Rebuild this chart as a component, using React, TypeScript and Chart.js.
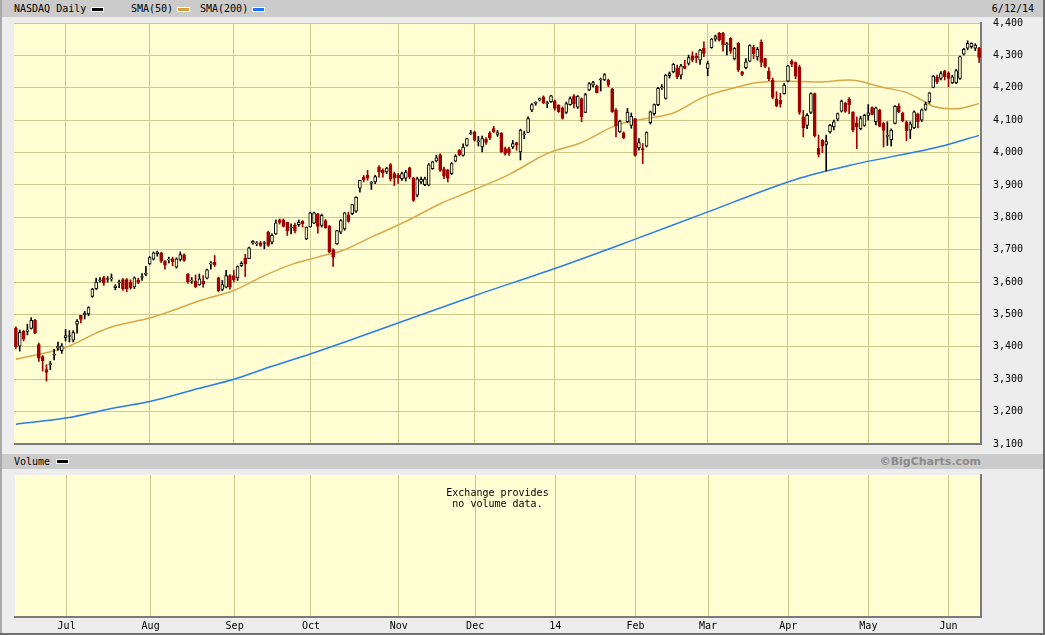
import React, { useEffect, useRef } from 'react';
import { Chart, registerables } from 'chart.js';

Chart.register(...registerables);

// ---- data ----
const dates = [
  '2013-06-12','2013-06-13','2013-06-14','2013-06-17','2013-06-18','2013-06-19','2013-06-20','2013-06-21','2013-06-24','2013-06-25',
  '2013-06-26','2013-06-27','2013-06-28','2013-07-01','2013-07-02','2013-07-03','2013-07-05','2013-07-08','2013-07-09','2013-07-10',
  '2013-07-11','2013-07-12','2013-07-15','2013-07-16','2013-07-17','2013-07-18','2013-07-19','2013-07-22','2013-07-23','2013-07-24',
  '2013-07-25','2013-07-26','2013-07-29','2013-07-30','2013-07-31','2013-08-01','2013-08-02','2013-08-05','2013-08-06','2013-08-07',
  '2013-08-08','2013-08-09','2013-08-12','2013-08-13','2013-08-14','2013-08-15','2013-08-16','2013-08-19','2013-08-20','2013-08-21',
  '2013-08-22','2013-08-23','2013-08-26','2013-08-27','2013-08-28','2013-08-29','2013-08-30','2013-09-03','2013-09-04','2013-09-05',
  '2013-09-06','2013-09-09','2013-09-10','2013-09-11','2013-09-12','2013-09-13','2013-09-16','2013-09-17','2013-09-18','2013-09-19',
  '2013-09-20','2013-09-23','2013-09-24','2013-09-25','2013-09-26','2013-09-27','2013-09-30','2013-10-01','2013-10-02','2013-10-03',
  '2013-10-04','2013-10-07','2013-10-08','2013-10-09','2013-10-10','2013-10-11','2013-10-14','2013-10-15','2013-10-16','2013-10-17',
  '2013-10-18','2013-10-21','2013-10-22','2013-10-23','2013-10-24','2013-10-25','2013-10-28','2013-10-29','2013-10-30','2013-10-31',
  '2013-11-01','2013-11-04','2013-11-05','2013-11-06','2013-11-07','2013-11-08','2013-11-11','2013-11-12','2013-11-13','2013-11-14',
  '2013-11-15','2013-11-18','2013-11-19','2013-11-20','2013-11-21','2013-11-22','2013-11-25','2013-11-26','2013-11-27','2013-11-29',
  '2013-12-02','2013-12-03','2013-12-04','2013-12-05','2013-12-06','2013-12-09','2013-12-10','2013-12-11','2013-12-12','2013-12-13',
  '2013-12-16','2013-12-17','2013-12-18','2013-12-19','2013-12-20','2013-12-23','2013-12-24','2013-12-26','2013-12-27','2013-12-30',
  '2013-12-31','2014-01-02','2014-01-03','2014-01-06','2014-01-07','2014-01-08','2014-01-09','2014-01-10','2014-01-13','2014-01-14',
  '2014-01-15','2014-01-16','2014-01-17','2014-01-21','2014-01-22','2014-01-23','2014-01-24','2014-01-27','2014-01-28','2014-01-29',
  '2014-01-30','2014-01-31','2014-02-03','2014-02-04','2014-02-05','2014-02-06','2014-02-07','2014-02-10','2014-02-11','2014-02-12',
  '2014-02-13','2014-02-14','2014-02-18','2014-02-19','2014-02-20','2014-02-21','2014-02-24','2014-02-25','2014-02-26','2014-02-27',
  '2014-02-28','2014-03-03','2014-03-04','2014-03-05','2014-03-06','2014-03-07','2014-03-10','2014-03-11','2014-03-12','2014-03-13',
  '2014-03-14','2014-03-17','2014-03-18','2014-03-19','2014-03-20','2014-03-21','2014-03-24','2014-03-25','2014-03-26','2014-03-27',
  '2014-03-28','2014-03-31','2014-04-01','2014-04-02','2014-04-03','2014-04-04','2014-04-07','2014-04-08','2014-04-09','2014-04-10',
  '2014-04-11','2014-04-14','2014-04-15','2014-04-16','2014-04-17','2014-04-21','2014-04-22','2014-04-23','2014-04-24','2014-04-25',
  '2014-04-28','2014-04-29','2014-04-30','2014-05-01','2014-05-02','2014-05-05','2014-05-06','2014-05-07','2014-05-08','2014-05-09',
  '2014-05-12','2014-05-13','2014-05-14','2014-05-15','2014-05-16','2014-05-19','2014-05-20','2014-05-21','2014-05-22','2014-05-23',
  '2014-05-27','2014-05-28','2014-05-29','2014-05-30','2014-06-02','2014-06-03','2014-06-04','2014-06-05','2014-06-06','2014-06-09',
  '2014-06-10','2014-06-11','2014-06-12',
];

const openP = [
  3458,3402,3449,3448,3457,3482,3407,3370,3330,3345,
  3374,3396,3388,3428,3432,3421,3470,3497,3499,3502,
  3556,3580,3604,3614,3608,3610,3583,3598,3608,3608,
  3600,3585,3606,3614,3624,3656,3671,3688,3689,3664,
  3668,3672,3646,3670,3684,3625,3603,3602,3591,3602,
  3612,3656,3661,3613,3577,3584,3620,3620,3613,3651,
  3673,3672,3721,3718,3721,3719,3754,3723,3749,3792,
  3792,3785,3767,3775,3777,3788,3733,3770,3782,3811,
  3775,3790,3772,3700,3718,3754,3764,3808,3811,3819,
  3890,3924,3930,3905,3909,3955,3945,3940,3963,3935,
  3930,3919,3921,3953,3921,3868,3909,3901,3899,3950,
  3974,3993,3950,3945,3935,3973,4007,3991,4022,4058,
  4064,4033,4017,4041,4061,4074,4056,4059,4012,4012,
  4017,4031,4002,4055,4062,4131,4152,4163,4172,4151,
  4157,4159,4146,4138,4124,4148,4175,4140,4167,4124,
  4193,4208,4205,4224,4224,4224,4195,4131,4064,4061,
  4095,4084,4105,4014,4012,4020,4092,4120,4148,4200,
  4167,4237,4249,4260,4239,4267,4275,4299,4297,4285,
  4322,4260,4324,4350,4368,4368,4333,4353,4289,4337,
  4249,4262,4282,4325,4295,4340,4290,4251,4224,4165,
  4162,4182,4220,4282,4278,4265,4110,4084,4124,4182,
  4014,4038,4025,4064,4079,4103,4128,4152,4165,4126,
  4092,4074,4084,4115,4139,4095,4131,4090,4050,4040,
  4090,4143,4122,4095,4069,4076,4118,4100,4133,4157,
  4201,4232,4229,4251,4246,4215,4215,4229,4304,4322,
  4327,4322,4322,
];

const highP = [
  3462,3452,3451,3470,3490,3485,3412,3373,3345,3355,
  3392,3415,3410,3454,3450,3450,3484,3497,3510,3524,
  3581,3612,3614,3618,3617,3625,3592,3606,3611,3611,
  3607,3616,3612,3626,3649,3679,3693,3696,3692,3666,
  3677,3677,3675,3693,3687,3626,3614,3622,3625,3620,
  3640,3663,3682,3615,3605,3636,3623,3637,3650,3663,
  3686,3708,3728,3725,3726,3726,3757,3749,3792,3795,
  3795,3785,3780,3782,3792,3790,3770,3816,3816,3812,
  3810,3793,3775,3703,3760,3793,3815,3816,3840,3863,
  3914,3929,3945,3911,3930,3960,3950,3955,3966,3940,
  3935,3940,3945,3955,3924,3924,3924,3924,3966,3973,
  3992,3996,3955,3948,3969,3993,4009,4027,4045,4069,
  4066,4050,4051,4046,4065,4081,4068,4062,4017,4017,
  4038,4032,4072,4066,4110,4151,4157,4169,4175,4158,
  4177,4162,4148,4141,4156,4172,4179,4176,4169,4183,
  4216,4220,4208,4230,4244,4227,4198,4136,4100,4064,
  4136,4122,4105,4043,4028,4064,4128,4150,4201,4210,
  4241,4249,4275,4270,4272,4285,4301,4311,4307,4319,
  4342,4282,4352,4363,4371,4371,4340,4355,4324,4340,
  4251,4290,4333,4331,4325,4348,4292,4262,4230,4188,
  4183,4213,4269,4287,4280,4270,4130,4120,4184,4184,
  4054,4040,4054,4087,4100,4122,4162,4155,4170,4126,
  4110,4112,4118,4148,4141,4140,4134,4094,4095,4073,
  4145,4151,4125,4098,4095,4129,4122,4135,4156,4186,
  4238,4239,4250,4254,4249,4239,4257,4298,4322,4345,
  4339,4336,4325,
];

const lowP = [
  3395,3387,3418,3437,3455,3441,3355,3325,3294,3330,
  3360,3390,3380,3418,3415,3415,3442,3474,3486,3496,
  3553,3577,3600,3590,3600,3603,3576,3583,3574,3570,
  3578,3580,3595,3605,3620,3654,3668,3680,3660,3640,
  3659,3650,3643,3665,3664,3596,3596,3583,3590,3584,
  3610,3640,3648,3571,3573,3582,3578,3600,3605,3648,
  3617,3672,3717,3712,3710,3703,3710,3718,3747,3779,
  3770,3744,3749,3752,3772,3770,3731,3770,3780,3751,
  3770,3766,3690,3648,3716,3750,3760,3785,3808,3815,
  3878,3909,3914,3886,3904,3924,3924,3935,3912,3898,
  3905,3914,3912,3919,3849,3863,3904,3898,3897,3948,
  3971,3942,3919,3909,3932,3971,3990,3989,4020,4055,
  4035,4020,4002,4025,4040,4062,4050,4000,3992,3991,
  4012,4007,3977,4043,4061,4126,4146,4159,4151,4139,
  4155,4131,4124,4103,4120,4146,4138,4136,4095,4123,
  4191,4203,4184,4190,4222,4203,4124,4048,4062,4043,
  4093,4075,3989,4007,3966,4017,4088,4115,4145,4195,
  4165,4230,4246,4228,4227,4258,4270,4280,4278,4272,
  4296,4237,4322,4344,4344,4313,4301,4306,4286,4250,
  4237,4258,4280,4290,4285,4265,4262,4222,4166,4141,
  4140,4180,4218,4265,4228,4118,4048,4074,4121,4048,
  3986,4000,3943,4060,4070,4098,4125,4124,4120,4064,
  4012,4070,4081,4100,4116,4085,4080,4017,4022,4020,
  4088,4123,4095,4036,4043,4074,4076,4096,4130,4152,
  4200,4213,4224,4224,4203,4213,4213,4226,4301,4317,
  4322,4315,4278,
];

const closeP = [
  3400,3445,3424,3452,3482,3443,3365,3357,3321,3348,
  3376,3402,3403,3435,3433,3444,3479,3485,3504,3521,
  3578,3600,3607,3598,3610,3611,3588,3600,3579,3580,
  3582,3613,3599,3616,3626,3676,3690,3693,3666,3652,
  3670,3662,3672,3685,3667,3601,3604,3586,3610,3594,
  3638,3658,3654,3573,3592,3620,3584,3607,3648,3658,
  3656,3706,3726,3721,3713,3722,3713,3744,3783,3784,
  3772,3759,3769,3759,3785,3780,3770,3814,3814,3772,
  3806,3768,3692,3677,3759,3790,3814,3787,3839,3862,
  3914,3916,3921,3907,3926,3940,3938,3952,3918,3921,
  3922,3935,3940,3924,3852,3919,3917,3919,3962,3971,
  3984,3945,3927,3921,3966,3989,3993,4017,4043,4060,
  4038,4037,4043,4031,4045,4064,4062,4003,3997,3999,
  4028,4023,4069,4058,4105,4148,4155,4167,4154,4154,
  4175,4136,4126,4105,4151,4167,4151,4174,4110,4179,
  4213,4216,4185,4226,4241,4208,4126,4082,4097,4045,
  4124,4112,3991,4031,4007,4062,4126,4148,4198,4201,
  4239,4244,4272,4234,4268,4260,4293,4285,4292,4316,
  4306,4275,4350,4358,4347,4332,4335,4313,4322,4255,
  4241,4280,4330,4305,4319,4278,4266,4228,4170,4145,
  4151,4208,4268,4273,4236,4124,4076,4115,4182,4051,
  3994,4020,4034,4084,4095,4120,4159,4127,4148,4069,
  4079,4105,4115,4123,4118,4138,4081,4068,4053,4069,
  4143,4126,4098,4067,4089,4126,4095,4132,4150,4184,
  4236,4218,4244,4234,4229,4234,4253,4296,4319,4337,
  4337,4332,4294,
];

// SMA values at selected sessions
const sma50Dates = [
  '2013-06-12','2013-07-01','2013-07-08','2013-07-15','2013-07-19','2013-08-01','2013-08-09','2013-08-21',
  '2013-09-03','2013-09-13','2013-09-24','2013-10-03','2013-10-14','2013-10-23','2013-11-05','2013-11-18',
  '2013-12-02','2013-12-13','2013-12-30','2014-01-13','2014-01-27','2014-02-06','2014-02-18','2014-02-28',
  '2014-03-13','2014-03-20','2014-04-01','2014-04-11','2014-04-24','2014-05-07','2014-05-15','2014-05-21',
  '2014-05-27','2014-06-04','2014-06-12',
];
const sma50Values = [
  3362,3398,3419,3448,3465,3489,3512,3546,
  3574,3620,3654,3677,3700,3739,3787,3842,
  3886,3932,3997,4031,4084,4105,4122,4172,
  4203,4216,4220,4218,4224,4201,4185,4162,
  4143,4135,4151,
];

const sma200Dates = [
  '2013-06-12','2013-07-01','2013-07-19','2013-08-01','2013-08-20','2013-09-03','2013-09-16','2013-10-01',
  '2013-10-15','2013-12-02','2014-01-02','2014-01-31','2014-02-28','2014-04-03','2014-04-24','2014-05-30',
  '2014-06-12',
];
const sma200Values = [
  3161,3180,3212,3231,3272,3300,3336,3378,
  3419,3558,3642,3728,3812,3917,3960,4022,
  4053,
];

const priceTicks = [3100, 3200, 3300, 3400, 3500, 3600, 3700, 3800, 3900, 4000, 4100, 4200, 4300, 4400];

const monthStarts = [
  '2013-07-01','2013-08-01','2013-09-03','2013-10-01','2013-11-01','2013-12-02',
  '2014-01-02','2014-02-03','2014-03-03','2014-04-01','2014-05-01','2014-06-02',
];
const monthLabels = ['Jul', 'Aug', 'Sep', 'Oct', 'Nov', 'Dec', '14', 'Feb', 'Mar', 'Apr', 'May', 'Jun'];

// ---- style ----
const MONO = '"DejaVu Sans Mono", "Liberation Mono", monospace';
const PLOT_BG = '#FFFFD3';
const GRID = '#CCC98C';
const AXIS = '#7A7A7A';
const RED = '#A00000';
const ORANGE = '#D9A748';
const BLUE = '#2A7BEE';
const CLEAR = 'rgba(0,0,0,0)';

const monthIndex: Record<number, string> = {};
monthStarts.forEach((d, k) => { monthIndex[dates.indexOf(d)] = monthLabels[k]; });

const bgPlugin = {
  id: 'plotBg',
  beforeDraw(chart: any) {
    const { ctx, chartArea: a } = chart;
    ctx.save();
    ctx.fillStyle = PLOT_BG;
    ctx.fillRect(a.left, a.top, a.right - a.left, a.bottom - a.top);
    ctx.restore();
  },
};

const monthGrid = (ctx: any) => (monthIndex[ctx.index] !== undefined ? GRID : CLEAR);

function PriceChart() {
  const ref = useRef<HTMLCanvasElement>(null);
  useEffect(() => {
    const up = closeP.map((c, i) => c >= openP[i]);
    const chart = new Chart(ref.current as HTMLCanvasElement, {
      type: 'bar',
      data: {
        labels: dates,
        datasets: [
          {
            type: 'line',
            label: 'SMA(50)',
            data: sma50Dates.map((d, i) => ({ x: d, y: sma50Values[i] })) as any,
            borderColor: ORANGE,
            borderWidth: 1.5,
            pointRadius: 0,
            cubicInterpolationMode: 'monotone',
            order: 3,
          } as any,
          {
            type: 'line',
            label: 'SMA(200)',
            data: sma200Dates.map((d, i) => ({ x: d, y: sma200Values[i] })) as any,
            borderColor: BLUE,
            borderWidth: 1.5,
            pointRadius: 0,
            cubicInterpolationMode: 'monotone',
            order: 3,
          } as any,
          {
            type: 'bar',
            label: 'wick',
            data: dates.map((_, i) => [lowP[i], highP[i]]) as any,
            backgroundColor: up.map((u) => (u ? '#000000' : RED)),
            barThickness: 1,
            grouped: false,
            order: 2,
          } as any,
          {
            type: 'bar',
            label: 'body',
            data: dates.map((_, i) => [openP[i], closeP[i]]) as any,
            backgroundColor: up.map((u) => (u ? PLOT_BG : RED)),
            borderColor: up.map((u) => (u ? '#000000' : RED)),
            borderWidth: 1,
            borderSkipped: false,
            barThickness: 3,
            minBarLength: 1,
            grouped: false,
            order: 1,
          } as any,
        ],
      },
      options: {
        animation: false,
        responsive: true,
        maintainAspectRatio: false,
        events: [],
        layout: { padding: { top: 8, bottom: 8, left: 0, right: 0 } },
        plugins: { legend: { display: false }, tooltip: { enabled: false } },
        scales: {
          x: {
            type: 'category',
            offset: true,
            ticks: { display: false, autoSkip: false },
            grid: { offset: false, drawTicks: false, color: monthGrid, lineWidth: 1 },
            border: { color: AXIS, width: 2 },
            afterFit: (s: any) => { s.height = 0; },
          },
          y: {
            position: 'right',
            min: 3100,
            max: 4400,
            afterBuildTicks: (s: any) => { s.ticks = priceTicks.map((v) => ({ value: v })); },
            ticks: {
              font: { family: MONO, size: 10 },
              color: '#000',
              padding: 0,
              callback: (v: any) => Number(v).toLocaleString('en-US'),
            },
            grid: { color: GRID, drawTicks: true, tickLength: 12, tickColor: CLEAR, lineWidth: 1 },
            border: { color: AXIS, width: 2 },
            afterFit: (s: any) => { s.width = 62; },
          },
        },
      } as any,
      plugins: [bgPlugin],
    });
    return () => chart.destroy();
  }, []);
  return <canvas ref={ref} />;
}

function VolumeChart() {
  const ref = useRef<HTMLCanvasElement>(null);
  useEffect(() => {
    const chart = new Chart(ref.current as HTMLCanvasElement, {
      type: 'bar',
      data: { labels: dates, datasets: [] },
      options: {
        animation: false,
        responsive: true,
        maintainAspectRatio: false,
        events: [],
        layout: { padding: { top: 8, bottom: 0, left: 0, right: 0 } },
        plugins: { legend: { display: false }, tooltip: { enabled: false } },
        scales: {
          x: {
            type: 'category',
            offset: true,
            ticks: {
              autoSkip: false,
              maxRotation: 0,
              minRotation: 0,
              padding: 3,
              font: { family: MONO, size: 10 },
              color: '#000',
              callback: (_v: any, i: number) => monthIndex[i] ?? '',
            },
            grid: { offset: false, drawTicks: false, color: monthGrid, lineWidth: 1 },
            border: { color: AXIS, width: 2 },
            afterFit: (s: any) => { s.height = 18; },
          },
          y: {
            position: 'right',
            ticks: { display: false },
            grid: { display: false },
            border: { color: AXIS, width: 2 },
            afterFit: (s: any) => { s.width = 62; },
          },
        },
      } as any,
      plugins: [bgPlugin],
    });
    return () => chart.destroy();
  }, []);
  return <canvas ref={ref} />;
}

const abs = (s: React.CSSProperties): React.CSSProperties => ({ position: 'absolute', ...s });

function Swatch({ left, top, color }: { left: number; top: number; color: string }) {
  return (
    <div
      style={abs({
        left, top, width: 13, height: 5, boxSizing: 'border-box',
        background: color, border: '1px solid #ffffff',
      })}
    />
  );
}

export default function App() {
  return (
    <div
      style={{
        position: 'fixed', left: 0, top: 0, width: 1045, height: 635, overflow: 'hidden',
        background: '#EDEDED', fontFamily: MONO, fontSize: 10, color: '#000',
      }}
    >
      {/* top header */}
      <div style={abs({ left: 0, top: 0, width: 1045, height: 17, background: '#CBCBCB' })} />
      <div style={abs({ left: 14, top: 0, lineHeight: '17px', whiteSpace: 'pre' })}>NASDAQ Daily</div>
      <Swatch left={91} top={7} color="#000000" />
      <div style={abs({ left: 131, top: 0, lineHeight: '17px' })}>SMA(50)</div>
      <Swatch left={177} top={7} color="#D6A13C" />
      <div style={abs({ left: 200, top: 0, lineHeight: '17px' })}>SMA(200)</div>
      <Swatch left={252} top={7} color="#1976FF" />
      <div style={abs({ left: 0, top: 0, width: 1034, textAlign: 'right', lineHeight: '17px' })}>6/12/14</div>

      {/* price panel */}
      <div style={abs({ left: 14, top: 15, width: 1029, height: 437 })}>
        <PriceChart />
      </div>

      {/* volume header */}
      <div style={abs({ left: 0, top: 454, width: 1045, height: 15, background: '#CBCBCB' })} />
      <div style={abs({ left: 14, top: 454, lineHeight: '15px' })}>Volume</div>
      <Swatch left={56} top={459} color="#000000" />
      <div
        style={abs({
          left: 0, top: 454, width: 981, textAlign: 'right', lineHeight: '15px',
          fontFamily: '"DejaVu Sans", Verdana, sans-serif', fontWeight: 'bold', fontSize: 11, color: '#8A8A8A',
        })}
      >
        ©BigCharts.com
      </div>

      {/* volume panel */}
      <div style={abs({ left: 14, top: 467, width: 1029, height: 168 })}>
        <VolumeChart />
      </div>
      <div style={abs({ left: 14, top: 487, width: 967, textAlign: 'center', lineHeight: '11px' })}>
        Exchange provides<br />no volume data.
      </div>

      {/* frame */}
      <div style={abs({ left: 0, top: 0, width: 2, height: 635, background: '#A8A8A8' })} />
      <div style={abs({ left: 1043, top: 0, width: 2, height: 635, background: '#6E6E6E' })} />
      <div style={abs({ left: 0, top: 633, width: 1045, height: 2, background: '#6E6E6E' })} />
    </div>
  );
}
